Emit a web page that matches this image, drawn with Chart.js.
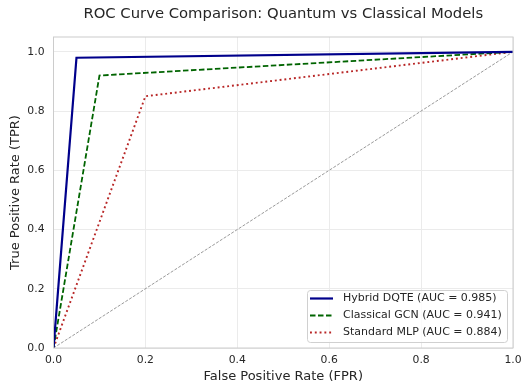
<!DOCTYPE html>
<html>
<head>
<meta charset="utf-8">
<script src="https://cdn.jsdelivr.net/npm/chart.js@4.4.1/dist/chart.umd.min.js"></script>
<style>
  html, body { margin: 0; padding: 0; background: #fff; }
  #wrap { width: 523px; height: 387px; }
</style>
</head>
<body>
<div id="wrap"><canvas id="roc"></canvas></div>
<script>
// ROC points
const fprDqte = [0, 0.05, 1];
const tprDqte = [0, 0.98, 1];
const fprGcn = [0, 0.1, 1];
const tprGcn = [0, 0.92, 1];
const fprMlp = [0, 0.2, 1];
const tprMlp = [0, 0.85, 1];
const chanceLine = [0, 1];
const labels = ['Hybrid DQTE (AUC = 0.985)', 'Classical GCN (AUC = 0.941)', 'Standard MLP (AUC = 0.884)'];
const tickVals = [0, 0.2, 0.4, 0.6, 0.8, 1.0];
const chartTitle = 'ROC Curve Comparison: Quantum vs Classical Models';

const FONT = "'DejaVu Sans', sans-serif";

function pts(xs, ys) {
  return xs.map((x, i) => ({ x: x, y: ys[i] }));
}

// frame, title over the axes, and legend box inside the plot, matplotlib style
const framePlugin = {
  id: 'frame',
  afterDatasetsDraw(chart) {
    const ctx = chart.ctx, a = chart.chartArea;
    ctx.save();
    ctx.strokeStyle = '#cccccc';
    ctx.lineWidth = 1;
    ctx.strokeRect(a.left, a.top, a.right - a.left, a.bottom - a.top);
    ctx.restore();
  },
  afterDraw(chart) {
    const ctx = chart.ctx, a = chart.chartArea;
    ctx.save();
    ctx.font = '14.8px ' + FONT;
    ctx.fillStyle = '#262626';
    ctx.textAlign = 'center';
    ctx.textBaseline = 'middle';
    ctx.fillText(chartTitle, (a.left + a.right) / 2, 14);
    ctx.textAlign = 'left';

    const x0 = 307, y0 = 290, w = 200, h = 52;
    ctx.beginPath();
    ctx.roundRect(x0 + 0.5, y0 + 0.5, w, h, 3);
    ctx.fillStyle = 'rgba(255,255,255,0.8)';
    ctx.fill();
    ctx.strokeStyle = '#d0d0d0';
    ctx.lineWidth = 1;
    ctx.stroke();
    ctx.font = '11px ' + FONT;
    for (let i = 0; i < 3; i++) {
      const ds = chart.data.datasets[i];
      const yy = y0 + 8.5 + i * 17;
      ctx.beginPath();
      ctx.setLineDash(ds.borderDash || []);
      ctx.strokeStyle = ds.borderColor;
      ctx.lineWidth = ds.borderWidth;
      ctx.moveTo(x0 + 3, yy);
      ctx.lineTo(x0 + 26, yy);
      ctx.stroke();
      ctx.setLineDash([]);
      ctx.fillStyle = '#262626';
      ctx.fillText(labels[i], x0 + 36, yy);
    }
    ctx.restore();
  }
};

function keepTicks(scale) {
  scale.ticks = tickVals.map(v => ({ value: v }));
}

new Chart(document.getElementById('roc'), {
  type: 'scatter',
  data: {
    datasets: [
      { label: labels[0], data: pts(fprDqte, tprDqte), showLine: true, borderColor: '#00008b', borderWidth: 2.2, pointRadius: 0, tension: 0 },
      { label: labels[1], data: pts(fprGcn, tprGcn), showLine: true, borderColor: '#006400', borderWidth: 1.8, borderDash: [5.5, 2.5], pointRadius: 0 },
      { label: labels[2], data: pts(fprMlp, tprMlp), showLine: true, borderColor: '#b82626', borderWidth: 1.9, borderDash: [1.9, 2.9], pointRadius: 0 },
      { label: 'chance', data: pts(chanceLine, chanceLine), showLine: true, borderColor: '#808080', borderWidth: 0.8, borderDash: [3, 1.5], pointRadius: 0 }
    ]
  },
  options: {
    responsive: true,
    maintainAspectRatio: false,
    animation: false,
    layout: { padding: { left: 0, right: 10, top: 37, bottom: 0 } },
    plugins: {
      legend: { display: false },
      tooltip: { enabled: false },
      title: { display: false }
    },
    scales: {
      x: {
        type: 'linear', min: 0, max: 1,
        afterBuildTicks: keepTicks,
        afterFit(s) { s.height = 39; s.paddingLeft = 0; s.paddingRight = 0; },
        grid: { color: '#ebebeb', drawTicks: false },
        border: { display: false },
        ticks: { color: '#262626', padding: 6, maxRotation: 0, font: { family: FONT, size: 10.8 }, callback: v => v.toFixed(1) },
        title: { display: true, text: 'False Positive Rate (FPR)', color: '#262626', font: { family: FONT, size: 13 }, padding: { top: 0, bottom: 3 } }
      },
      y: {
        type: 'linear', min: 0, max: 1.05,
        afterBuildTicks: keepTicks,
        afterFit(s) { s.width = 53.5; s.paddingTop = 0; s.paddingBottom = 0; },
        grid: { color: '#ebebeb', drawTicks: false },
        border: { display: false },
        ticks: { color: '#262626', padding: 9, font: { family: FONT, size: 10.8 }, callback: v => v.toFixed(1) },
        title: { display: true, text: 'True Positive Rate (TPR)', color: '#262626', font: { family: FONT, size: 13 }, padding: { top: 8, bottom: 0 } }
      }
    }
  },
  plugins: [framePlugin]
});
</script>
</body>
</html>
